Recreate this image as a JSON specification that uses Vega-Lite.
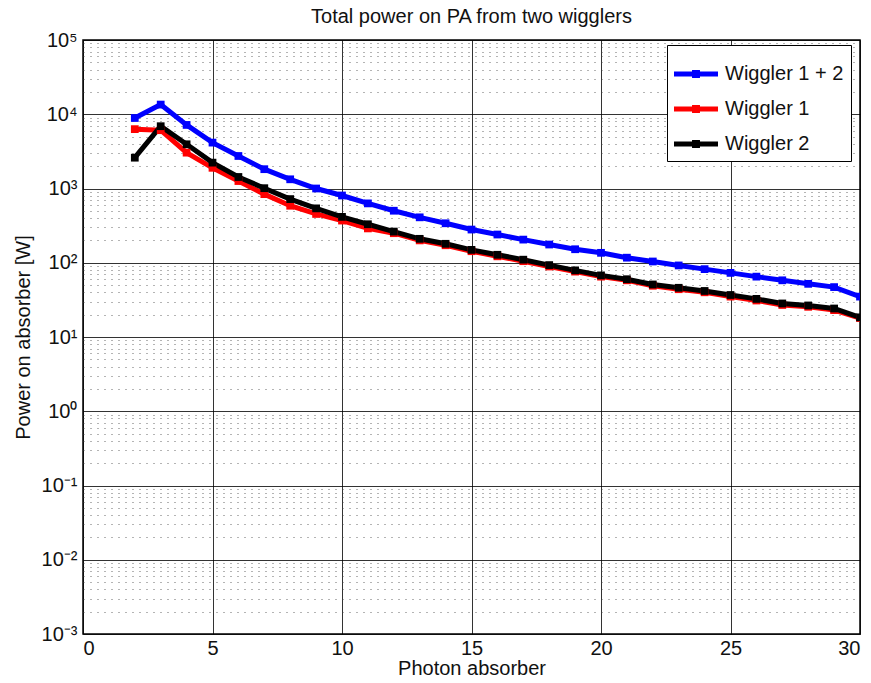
{
  "$schema": "https://vega.github.io/schema/vega-lite/v6.json",
  "width": 777,
  "height": 594,
  "autosize": {"type": "none"},
  "padding": {"left": 83, "top": 40, "right": 11, "bottom": 49},
  "background": "white",
  "title": {"text": "Total power on PA from two wigglers", "font": "Liberation Sans", "fontSize": 20, "fontWeight": "normal", "color": "#111111", "offset": 3},
  "config": {
    "view": {"stroke": "black", "strokeWidth": 1.5},
    "font": "Liberation Sans"
  },
  "data": {"values": [
    {"n": 2, "p": 8900, "s": "Wiggler 1 + 2"},
    {"n": 3, "p": 13500, "s": "Wiggler 1 + 2"},
    {"n": 4, "p": 7180, "s": "Wiggler 1 + 2"},
    {"n": 5, "p": 4150, "s": "Wiggler 1 + 2"},
    {"n": 6, "p": 2740, "s": "Wiggler 1 + 2"},
    {"n": 7, "p": 1820, "s": "Wiggler 1 + 2"},
    {"n": 8, "p": 1330, "s": "Wiggler 1 + 2"},
    {"n": 9, "p": 1000, "s": "Wiggler 1 + 2"},
    {"n": 10, "p": 805, "s": "Wiggler 1 + 2"},
    {"n": 11, "p": 630, "s": "Wiggler 1 + 2"},
    {"n": 12, "p": 502, "s": "Wiggler 1 + 2"},
    {"n": 13, "p": 409, "s": "Wiggler 1 + 2"},
    {"n": 14, "p": 340, "s": "Wiggler 1 + 2"},
    {"n": 15, "p": 280, "s": "Wiggler 1 + 2"},
    {"n": 16, "p": 240, "s": "Wiggler 1 + 2"},
    {"n": 17, "p": 205, "s": "Wiggler 1 + 2"},
    {"n": 18, "p": 176, "s": "Wiggler 1 + 2"},
    {"n": 19, "p": 152, "s": "Wiggler 1 + 2"},
    {"n": 20, "p": 136, "s": "Wiggler 1 + 2"},
    {"n": 21, "p": 117, "s": "Wiggler 1 + 2"},
    {"n": 22, "p": 104, "s": "Wiggler 1 + 2"},
    {"n": 23, "p": 92, "s": "Wiggler 1 + 2"},
    {"n": 24, "p": 82, "s": "Wiggler 1 + 2"},
    {"n": 25, "p": 73, "s": "Wiggler 1 + 2"},
    {"n": 26, "p": 65, "s": "Wiggler 1 + 2"},
    {"n": 27, "p": 58, "s": "Wiggler 1 + 2"},
    {"n": 28, "p": 52, "s": "Wiggler 1 + 2"},
    {"n": 29, "p": 47, "s": "Wiggler 1 + 2"},
    {"n": 30, "p": 35, "s": "Wiggler 1 + 2"},
    {"n": 2, "p": 6300, "s": "Wiggler 1"},
    {"n": 3, "p": 6100, "s": "Wiggler 1"},
    {"n": 4, "p": 3040, "s": "Wiggler 1"},
    {"n": 5, "p": 1900, "s": "Wiggler 1"},
    {"n": 6, "p": 1260, "s": "Wiggler 1"},
    {"n": 7, "p": 840, "s": "Wiggler 1"},
    {"n": 8, "p": 586, "s": "Wiggler 1"},
    {"n": 9, "p": 454, "s": "Wiggler 1"},
    {"n": 10, "p": 370, "s": "Wiggler 1"},
    {"n": 11, "p": 290, "s": "Wiggler 1"},
    {"n": 12, "p": 250, "s": "Wiggler 1"},
    {"n": 13, "p": 200, "s": "Wiggler 1"},
    {"n": 14, "p": 172, "s": "Wiggler 1"},
    {"n": 15, "p": 143, "s": "Wiggler 1"},
    {"n": 16, "p": 122, "s": "Wiggler 1"},
    {"n": 17, "p": 105, "s": "Wiggler 1"},
    {"n": 18, "p": 89, "s": "Wiggler 1"},
    {"n": 19, "p": 76, "s": "Wiggler 1"},
    {"n": 20, "p": 65, "s": "Wiggler 1"},
    {"n": 21, "p": 58, "s": "Wiggler 1"},
    {"n": 22, "p": 49, "s": "Wiggler 1"},
    {"n": 23, "p": 44, "s": "Wiggler 1"},
    {"n": 24, "p": 40, "s": "Wiggler 1"},
    {"n": 25, "p": 35, "s": "Wiggler 1"},
    {"n": 26, "p": 31, "s": "Wiggler 1"},
    {"n": 27, "p": 27, "s": "Wiggler 1"},
    {"n": 28, "p": 25.5, "s": "Wiggler 1"},
    {"n": 29, "p": 23, "s": "Wiggler 1"},
    {"n": 30, "p": 18, "s": "Wiggler 1"},
    {"n": 2, "p": 2600, "s": "Wiggler 2"},
    {"n": 3, "p": 6900, "s": "Wiggler 2"},
    {"n": 4, "p": 3940, "s": "Wiggler 2"},
    {"n": 5, "p": 2230, "s": "Wiggler 2"},
    {"n": 6, "p": 1430, "s": "Wiggler 2"},
    {"n": 7, "p": 1010, "s": "Wiggler 2"},
    {"n": 8, "p": 720, "s": "Wiggler 2"},
    {"n": 9, "p": 540, "s": "Wiggler 2"},
    {"n": 10, "p": 415, "s": "Wiggler 2"},
    {"n": 11, "p": 330, "s": "Wiggler 2"},
    {"n": 12, "p": 263, "s": "Wiggler 2"},
    {"n": 13, "p": 210, "s": "Wiggler 2"},
    {"n": 14, "p": 180, "s": "Wiggler 2"},
    {"n": 15, "p": 149, "s": "Wiggler 2"},
    {"n": 16, "p": 128, "s": "Wiggler 2"},
    {"n": 17, "p": 110, "s": "Wiggler 2"},
    {"n": 18, "p": 93, "s": "Wiggler 2"},
    {"n": 19, "p": 79, "s": "Wiggler 2"},
    {"n": 20, "p": 67.6, "s": "Wiggler 2"},
    {"n": 21, "p": 60, "s": "Wiggler 2"},
    {"n": 22, "p": 51, "s": "Wiggler 2"},
    {"n": 23, "p": 46, "s": "Wiggler 2"},
    {"n": 24, "p": 41.7, "s": "Wiggler 2"},
    {"n": 25, "p": 36.8, "s": "Wiggler 2"},
    {"n": 26, "p": 32.6, "s": "Wiggler 2"},
    {"n": 27, "p": 28.3, "s": "Wiggler 2"},
    {"n": 28, "p": 26.6, "s": "Wiggler 2"},
    {"n": 29, "p": 24.2, "s": "Wiggler 2"},
    {"n": 30, "p": 18.4, "s": "Wiggler 2"}
  ]},
  "mark": {"type": "line", "strokeWidth": 5, "clip": true, "point": {"shape": "square", "size": 60, "filled": true}},
  "encoding": {
    "x": {
      "field": "n", "type": "quantitative",
      "scale": {"domain": [0, 30], "nice": false, "zero": false},
      "axis": {
        "title": "Photon absorber", "titleFont": "Liberation Sans", "titleFontSize": 20, "titleFontWeight": "normal", "titleColor": "#111111", "titlePadding": 0,
        "values": [0, 5, 10, 15, 20, 25, 30], "format": "d",
        "labelFont": "Liberation Sans", "labelFontSize": 20, "labelColor": "#111111", "labelPadding": 4,
        "grid": true, "gridColor": "black", "gridOpacity": 0.8, "gridWidth": 1,
        "ticks": false, "domain": false
      }
    },
    "y": {
      "field": "p", "type": "quantitative",
      "scale": {"type": "log", "domain": [0.001, 100000], "nice": false},
      "axis": {
        "title": "Power on absorber [W]", "titleFont": "Liberation Sans", "titleFontSize": 20, "titleFontWeight": "normal", "titleColor": "#111111", "titlePadding": 8,
        "values": [0.001,0.002,0.003,0.004,0.005,0.006,0.007,0.008,0.009,0.01,0.02,0.03,0.04,0.05,0.06,0.07,0.08,0.09,0.1,0.2,0.3,0.4,0.5,0.6,0.7,0.8,0.9,1,2,3,4,5,6,7,8,9,10,20,30,40,50,60,70,80,90,100,200,300,400,500,600,700,800,900,1000,2000,3000,4000,5000,6000,7000,8000,9000,10000,20000,30000,40000,50000,60000,70000,80000,90000,100000],
        "labelExpr": "datum.value==100000?'10⁵':datum.value==10000?'10⁴':datum.value==1000?'10³':datum.value==100?'10²':datum.value==10?'10¹':datum.value==1?'10⁰':datum.value==0.1?'10⁻¹':datum.value==0.01?'10⁻²':datum.value==0.001?'10⁻³':''",
        "labelOverlap": false,
        "labelFont": "Liberation Sans", "labelFontSize": 20, "labelColor": "#111111", "labelPadding": 6,
        "grid": true,
        "gridColor": {"condition": {"test": "indexof([100000,10000,1000,100,10,1,0.1,0.01,0.001], datum.value) >= 0", "value": "#000000"}, "value": "#444444"},
        "gridDash": {"condition": {"test": "indexof([100000,10000,1000,100,10,1,0.1,0.01,0.001], datum.value) >= 0", "value": []}, "value": [1, 6]},
        "gridOpacity": 0.8,
        "gridWidth": 1,
        "ticks": false, "domain": false
      }
    },
    "color": {
      "field": "s", "type": "nominal",
      "scale": {"domain": ["Wiggler 1 + 2", "Wiggler 1", "Wiggler 2"], "range": ["#0000ff", "#ff0000", "#000000"]},
      "legend": {
        "title": null, "orient": "none", "legendX": 584, "legendY": 5,
        "labelFont": "Liberation Sans", "labelFontSize": 20, "labelColor": "#111111", "labelOffset": 7, "labelLimit": 300,
        "symbolType": "M-1,-0.11L1,-0.11L1,0.11L-1,0.11Z M-0.18,-0.18L0.18,-0.18L0.18,0.18L-0.18,0.18Z",
        "symbolSize": 1936, "symbolStrokeWidth": 0, "symbolFillColor": null,
        "strokeColor": "black", "fillColor": "white", "padding": 7, "rowPadding": 3,
        "cornerRadius": 0
      }
    }
  }
}
